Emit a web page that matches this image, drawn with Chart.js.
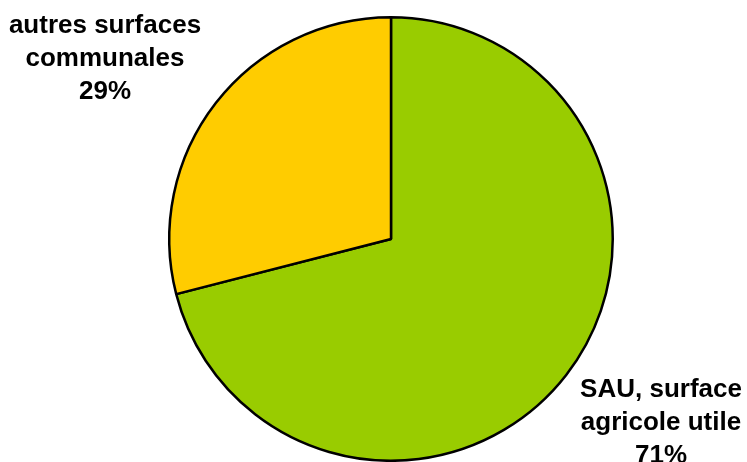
<!DOCTYPE html>
<html>
<head>
<meta charset="utf-8">
<script src="https://cdn.jsdelivr.net/npm/chart.js@4/dist/chart.umd.min.js"></script>
<style>
  html, body { margin: 0; padding: 0; background: #ffffff; }
  #wrap { width: 747px; height: 462px; position: relative; }
</style>
</head>
<body>
<div id="wrap"><canvas id="chart-pie"></canvas></div>
<script>
// data
var categories = ["SAU, surface agricole utile", "autres surfaces communales"];
var shares = [71, 29];
var colors = ["#99cc00", "#ffcc00"];
// label lines and where they sit (centre x, first baseline)
var labelLines = [["SAU, surface", "agricole utile"], ["autres surfaces", "communales"]];
var labelPos = [[661, 397], [105, 33]];

var sliceLabels = {
  id: "sliceLabels",
  afterDraw: function (chart) {
    var ctx = chart.ctx;
    var total = shares.reduce(function (a, b) { return a + b; }, 0);
    ctx.save();
    ctx.font = "bold 26px 'Liberation Sans', Arial, sans-serif";
    ctx.fillStyle = "#000000";
    ctx.textAlign = "center";
    ctx.textBaseline = "alphabetic";
    shares.forEach(function (v, i) {
      var lines = labelLines[i].concat([Math.round(v / total * 100) + "%"]);
      lines.forEach(function (t, j) {
        ctx.fillText(t, labelPos[i][0], labelPos[i][1] + j * 33);
      });
    });
    ctx.restore();
  }
};

document.addEventListener("DOMContentLoaded", function () {
  var ctx1 = document.getElementById("chart-pie").getContext("2d");
  new Chart(ctx1, {
    type: "pie",
    data: {
      labels: categories,
      datasets: [
        {
          data: shares,
          backgroundColor: colors,
          borderColor: "#000000",
          borderWidth: 2.5,
          hoverOffset: 0,
        },
      ],
    },
    options: {
      responsive: true,
      maintainAspectRatio: false,
      animation: false,
      layout: {
        padding: { top: 16, bottom: 0, left: 168, right: 133 },
      },
      plugins: {
        legend: { display: false },
        tooltip: { enabled: false },
      },
    },
    plugins: [sliceLabels],
  });
});
</script>
</body>
</html>
